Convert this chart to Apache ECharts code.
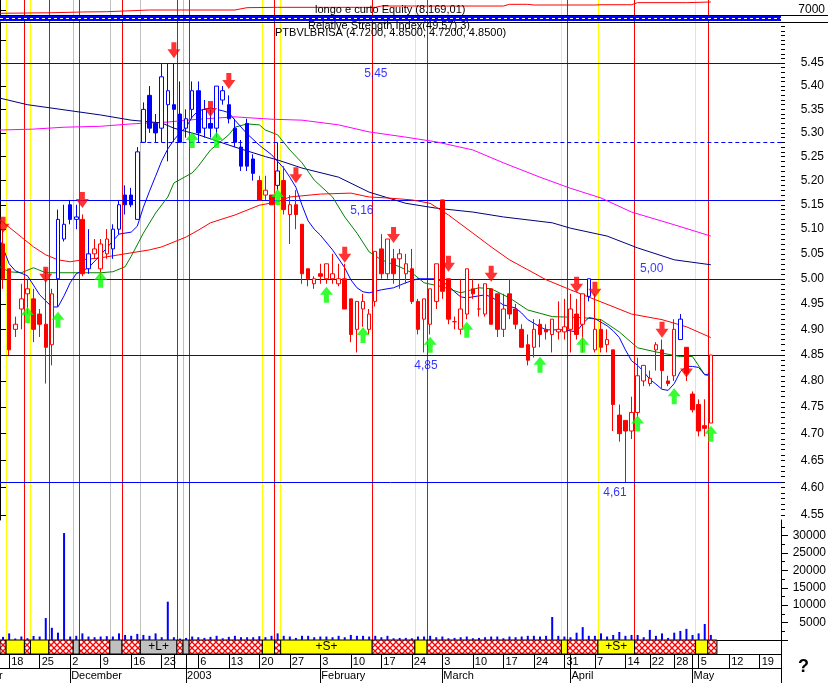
<!DOCTYPE html>
<html><head><meta charset="utf-8">
<script src="https://cdn.jsdelivr.net/npm/echarts@6/dist/echarts.min.js"></script>
<style>html,body{margin:0;padding:0;background:#fff}#c{width:828px;height:683px}</style>
</head><body><div id="c"></div>
<script>
// ---------- DATA ----------
const tradingDays = {
  '2002-11': [15,18,19,20,21,22,25,26,27,28,29],
  '2002-12': [2,3,4,5,6,9,10,11,12,13,16,17,18,19,20,23,24,30,31],
  '2003-01': [2,3,6,7,8,9,10,13,14,15,16,17,20,21,22,23,24,27,28,29,30,31],
  '2003-02': [3,4,5,6,7,10,11,12,13,14,17,18,19,20,21,24,25,26,27,28],
  '2003-03': [3,4,5,6,7,10,11,12,13,14,17,18,19,20,21,24,25,26,27,28,31],
  '2003-04': [1,2,3,4,7,8,9,10,11,14,15,16,17,22,23,24,25,28,29,30],
  '2003-05': [2,5,6,7,8,9,12,13,14,15,16,19,20,21,22]
};
const hiddenDayLabels = ['2002-12-30'];
const monthNames = ['2003','February','March','April','May','June','July','August','September','October','November','December'];

const opens  = [5.07,5.02,4.90,4.94,4.97,4.96,4.93,4.91,4.87,5.00,5.08,5.15,5.12,5.12,5.02,5.05,5.02,5.05,5.06,5.10,5.17,5.17,5.12,5.28,5.38,5.32,5.31,5.36,5.36,5.34,5.31,5.35,5.39,5.31,5.32,5.31,5.37,5.36,5.31,5.27,5.32,5.245,5.20,5.17,5.17,5.19,5.20,5.13,5.15,5.11,5.02,4.99,5.01,5.00,5.00,4.99,5.00,4.96,4.90,4.94,4.90,4.955,5.06,5.01,5.04,5.04,5.01,5.02,4.955,4.92,4.91,4.955,5.16,5.00,4.915,4.90,4.93,4.98,4.94,4.93,4.98,4.97,4.90,4.97,4.94,4.90,4.87,4.865,4.91,4.90,4.89,4.895,4.895,4.90,4.93,4.91,4.965,4.86,4.90,4.87,4.86,4.735,4.725,4.705,4.74,4.80,4.795,4.86,4.86,4.80,4.81,4.88,4.865,4.775,4.755,4.715,4.72];
const closes = [5.00,4.86,4.91,4.96,4.98,4.90,4.91,4.865,4.97,5.12,5.11,5.12,5.125,5.01,5.05,5.06,5.07,5.08,5.10,5.15,5.15,5.15,5.26,5.35,5.31,5.30,5.42,5.39,5.35,5.28,5.33,5.39,5.30,5.35,5.31,5.40,5.39,5.33,5.28,5.23,5.23,5.215,5.16,5.18,5.15,5.22,5.14,5.15,5.13,5.01,5.00,5.00,5.005,5.03,5.01,5.00,4.94,4.89,4.955,4.955,4.93,5.055,5.01,5.08,5.01,5.05,5.03,4.955,4.90,4.96,4.98,5.03,4.975,4.92,4.915,4.94,5.02,4.97,4.94,4.99,4.91,4.90,4.94,4.93,4.91,4.865,4.84,4.90,4.89,4.895,4.92,4.90,4.905,4.94,4.89,4.97,5.00,4.90,4.865,4.88,4.755,4.70,4.705,4.74,4.81,4.83,4.805,4.87,4.82,4.795,4.90,4.92,4.815,4.745,4.705,4.71,4.85];
const lows   = [4.98,4.85,4.885,4.90,4.93,4.875,4.885,4.795,4.83,4.945,5.075,5.11,5.10,5.005,5.01,5.04,5.00,5.04,5.04,5.09,5.13,5.145,5.12,5.28,5.30,5.28,5.28,5.24,5.28,5.28,5.29,5.33,5.28,5.29,5.29,5.29,5.36,5.32,5.27,5.22,5.22,5.20,5.16,5.16,5.15,5.18,5.13,5.07,5.10,4.99,4.985,4.98,4.99,4.99,4.99,4.985,4.94,4.875,4.855,4.905,4.89,4.945,5.00,5.00,4.99,4.98,4.99,4.95,4.89,4.855,4.89,4.94,4.96,4.91,4.90,4.89,4.92,4.96,4.925,4.925,4.91,4.885,4.885,4.92,4.90,4.865,4.83,4.845,4.865,4.88,4.855,4.88,4.88,4.855,4.88,4.855,4.955,4.855,4.855,4.855,4.705,4.685,4.61,4.69,4.73,4.79,4.79,4.82,4.785,4.79,4.80,4.88,4.80,4.74,4.695,4.695,4.72];
const highs  = [5.10,5.02,4.925,4.99,5.00,4.98,4.94,5.02,4.98,5.14,5.15,5.16,5.15,5.13,5.10,5.08,5.08,5.10,5.11,5.16,5.19,5.185,5.27,5.365,5.40,5.34,5.45,5.45,5.45,5.41,5.35,5.41,5.41,5.37,5.35,5.40,5.40,5.38,5.33,5.285,5.33,5.255,5.21,5.21,5.17,5.28,5.23,5.17,5.18,5.11,5.02,5.005,5.03,5.03,5.05,5.03,5.03,4.96,4.955,4.97,4.94,5.055,5.09,5.08,5.06,5.06,5.05,5.06,4.96,4.96,4.98,5.03,5.16,5.00,4.925,5.00,5.02,5.00,4.99,4.99,4.98,4.97,4.97,5.00,4.95,4.91,4.89,4.92,4.92,4.91,4.92,4.955,4.96,4.97,4.96,4.97,5.00,4.97,4.92,4.90,4.86,4.755,4.725,4.77,4.845,4.83,4.82,4.875,4.88,4.81,4.92,4.93,4.865,4.78,4.765,4.765,4.85];
const blueCandles = [9,10,11,12,14,18,19,20,21,22,23,24,25,26,27,28,29,30,31,32,33,34,35,36,37,38,39,40,41,45,96,111];
const volumes = [900,1900,430,1000,500,1150,1000,6300,3500,2100,30700,1000,1200,1900,1000,800,1000,1100,1000,1900,1450,1200,1750,1450,1200,1900,800,11000,800,400,600,1000,800,600,900,1200,500,900,1200,800,800,800,1100,800,1200,1900,1200,1000,600,1200,1200,800,1000,1000,800,1200,800,1450,1200,1200,1000,1200,800,1200,500,600,600,500,1000,1000,1200,800,1000,500,600,800,1000,500,600,800,1000,1000,500,1000,800,1000,1200,1200,1000,1200,6600,1200,1000,800,2100,3700,1200,1200,1900,1000,1450,2300,1200,1450,1450,800,2900,1200,1900,600,2100,2600,3200,1450,1900,4600,1450];

// moving averages: [bar index, price]
const maBlue = [[-0.5,5.078],[1,5.030],[2,5.016],[4,5.006],[6,4.968],[8,4.944],[9,4.944],[10,4.966],[11,4.992],[12,5.010],[14,5.022],[16,5.048],[18,5.076],[19,5.090],[21,5.094],[22,5.106],[23,5.145],[24,5.178],[25,5.209],[26,5.241],[27,5.266],[28,5.285],[29,5.300],[30,5.312],[31,5.334],[32,5.347],[34,5.353],[36,5.347],[37,5.343],[38,5.327],[40,5.298],[42,5.274],[44,5.254],[46,5.226],[47,5.207],[48,5.186],[49,5.149],[50,5.117],[51,5.100],[52,5.088],[54,5.058],[56,5.022],[57,4.998],[58,4.982],[59,4.974],[60,4.972],[62,4.978],[64,4.982],[66,4.992],[68,5.000],[71,5.000],[72,4.994],[73,4.986],[74,4.974],[75,4.964],[76,4.962],[79,4.968],[80,4.964],[82,4.948],[84,4.942],[85,4.932],[86,4.919],[88,4.905],[89,4.899],[92,4.899],[94,4.895],[95,4.911],[96,4.923],[97,4.921],[99,4.907],[100,4.897],[101,4.884],[102,4.860],[103,4.839],[104,4.830],[105,4.818],[106,4.803],[107,4.794],[108,4.784],[109,4.782],[110,4.795],[111,4.818],[112,4.828],[113,4.828],[114,4.826],[115,4.812],[116,4.814]];
const maGreen = [[-0.5,5.024],[1,5.014],[3,5.012],[5,5.022],[7,5.012],[10,5.012],[16,5.012],[18,5.014],[20,5.024],[21,5.045],[23,5.092],[25,5.133],[27,5.166],[28,5.195],[31,5.216],[32,5.230],[34,5.264],[37,5.296],[38,5.312],[40,5.319],[42,5.317],[43,5.306],[45,5.296],[47,5.264],[49,5.237],[51,5.201],[54,5.166],[56,5.125],[58,5.092],[60,5.054],[62,5.038],[65,5.024],[67,5.012],[69,4.992],[72,4.984],[75,4.972],[78,4.982],[80,4.980],[83,4.962],[86,4.938],[90,4.925],[95,4.923],[98,4.919],[101,4.895],[104,4.864],[107,4.856],[111,4.847],[113,4.847],[115,4.812],[116,4.809]];
const maRed = [[-0.5,5.119],[1,5.104],[3,5.084],[5,5.064],[7,5.048],[9,5.038],[11,5.034],[13,5.038],[16,5.042],[19,5.048],[24,5.058],[26,5.064],[28,5.074],[30,5.084],[32,5.098],[34,5.113],[38,5.129],[40,5.139],[42,5.149],[45,5.156],[47,5.166],[52,5.172],[57,5.174],[60,5.166],[63,5.164],[67,5.160],[70,5.153],[73,5.129],[77,5.092],[80,5.064],[83,5.038],[86,5.018],[89,4.998],[93,4.978],[98,4.954],[103,4.930],[108,4.919],[112,4.905],[116,4.884]];
const maNavy = [[-0.5,5.374],[4,5.360],[10,5.349],[16,5.338],[21,5.327],[26,5.321],[28,5.310],[32,5.296],[38,5.270],[43,5.250],[45,5.243],[49,5.226],[55,5.207],[60,5.176],[66,5.153],[71,5.143],[77,5.135],[82,5.125],[90,5.113],[93,5.102],[99,5.086],[104,5.062],[110,5.038],[116,5.028]];
const maMagenta = [[-0.5,5.306],[5,5.308],[10,5.312],[16,5.314],[21,5.319],[27,5.323],[32,5.329],[38,5.334],[44,5.329],[49,5.327],[55,5.317],[60,5.302],[66,5.291],[71,5.281],[77,5.264],[82,5.237],[88,5.207],[93,5.184],[98,5.164],[103,5.135],[110,5.109],[116,5.086]];

// signals: [bar index, price level]
const sellArrows = [[0,5.109],[7,5.008],[13,5.160],[28,5.478],[34,5.351],[37,5.411],[48,5.211],[56,5.048],[64,5.088],[73,5.030],[80,5.010],[94,4.988],[97,4.978],[108,4.899],[112,4.822]];
const buyArrows  = [[4,4.928],[9,4.919],[16,4.998],[31,5.285],[35,5.285],[45,5.166],[53,4.968],[59,4.889],[70,4.870],[76,4.899],[88,4.831],[95,4.870],[104,4.719],[110,4.771],[116,4.700]];

// equity curve: [bar index, value]
const equity = [[-0.5,6520],[8,6600],[13,6710],[17,6750],[24,7000],[38,7000],[40,7340],[45,7390],[61,7390],[62,7580],[82,7580],[83,7830],[86,7830],[87,7730],[97,7730],[98,7770],[103,7770],[104,8070],[112,8070],[116,8169]];

// position state strip
const stateStarts = [0,1,4,5,8,12,13,18,20,23,29,30,31,43,45,46,61,68,70,92,93,98,104,114,116];
const stateKinds  = ['flat','short','flat','short','flat','long','flat','long','flat','long','flat','long','flat','short','flat','short','flat','short','flat','short','flat','short','flat','short','flat'];
const stateEnd = 117.5;

// support / resistance levels
const levels = [5.45, 5.16, 5.00, 4.85, 4.61];
const levelLabelText = ['5,45','5,16','5,00','4,85','4,61'];
const levelLabelBar  = [61.6, 59.3, 106.8, 69.8, 100.8];
const levelLabelSide = ['bottom','bottom','top','bottom','bottom'];
const dashedLevel = 5.28, dashedFrom = 23;

const priceLabels = [4.55,4.60,4.65,4.70,4.75,4.80,4.85,4.90,4.95,5.00,5.05,5.10,5.15,5.20,5.25,5.30,5.35,5.40,5.45];
const priceMin = 4.5407, priceMax = 5.5400;
const volLabels = [5000,10000,15000,20000,25000,30000];

// ---------- BUILD ----------
const L = Math.log;
const dates = [];
for (const ym in tradingDays) for (const d of tradingDays[ym]) dates.push(ym + '-' + String(d).padStart(2,'0'));
const N = dates.length;
const weekStarts = new Set(), monthStarts = new Set();
for (let i = 1; i < N; i++) {
  const a = new Date(dates[i-1] + 'T00:00:00Z'), b = new Date(dates[i] + 'T00:00:00Z');
  if (b.getUTCDay() <= a.getUTCDay() || (b - a) / 864e5 >= 7) weekStarts.add(i);
  if (dates[i].slice(0,7) !== dates[i-1].slice(0,7)) monthStarts.add(i);
}
const dayTick = i => weekStarts.has(i) || monthStarts.has(i);

const blueSet = new Set(blueCandles);
const redData = [], blueData = [];
const EMPTY = ['-','-','-','-'];
for (let i = 0; i < opens.length; i++) {
  const row = [L(opens[i]), L(closes[i]), L(lows[i]), L(highs[i])];
  if (blueSet.has(i)) { blueData.push(row); redData.push(EMPTY); }
  else { redData.push(row); blueData.push(EMPTY); }
}
const maSeries = (arr, color) => ({
  type:'line', xAxisIndex:2, yAxisIndex:1, data: arr.map(p => [p[0] + 0.5, L(p[1])]),
  showSymbol:false, symbol:'none', lineStyle:{color, width:1}, z:3, silent:true, animation:false
});

const minorVals = []; for (let k = 455; k <= 554; k++) minorVals.push(L(k/100));
const majorTicks = priceLabels.concat([5.50]).map(L);

const kindColor = {flat:'#ff0000', short:'#ffff00', long:'#c0c0c0'};
const vlines = stateStarts.map((s, k) => ({s, k: stateKinds[k]})).filter(o => o.s > 0);

const pc = document.createElement('canvas'); pc.width = 6; pc.height = 6;
const g = pc.getContext('2d');
g.fillStyle = '#fff'; g.fillRect(0,0,6,6);
g.strokeStyle = '#ff0000'; g.lineWidth = 1.3;
g.beginPath(); g.moveTo(0,0); g.lineTo(6,6); g.moveTo(6,0); g.lineTo(0,6); g.stroke();
const kindFill = {flat:{image:pc, repeat:'repeat'}, short:'#ffff00', long:'#c0c0c0'};
const kindCode = {flat:0, short:1, long:2};
const codeKind = ['flat','short','long'];
const segData = stateStarts.map((s, k) => ({value:[s, k+1 < stateStarts.length ? stateStarts[k+1] : stateEnd, kindCode[stateKinds[k]]]}));

const FONT = 'Liberation Sans';
const gridBase = {left:0, width:781, containLabel:false, outerBoundsMode:'none'};

const option = {
  animation:false,
  backgroundColor:'#fff',
  textStyle:{fontFamily:FONT},
  grid:[
    Object.assign({top:0, height:15}, gridBase),
    Object.assign({top:22, height:498}, gridBase),
    Object.assign({top:520, height:120}, gridBase),
    Object.assign({top:640, height:14}, gridBase),
    Object.assign({top:0, height:640}, gridBase)
  ],
  xAxis:[
    {type:'value', gridIndex:0, min:0, max:N, show:false},
    {type:'category', gridIndex:1, data:dates, show:false},
    {type:'value', gridIndex:1, min:0, max:N, show:false},
    {type:'category', gridIndex:2, data:dates, position:'bottom',
      axisLine:{show:true, onZero:false, lineStyle:{color:'#000', width:1}}, axisTick:{show:false}, axisLabel:{show:false}},
    {type:'value', gridIndex:3, min:0, max:N, show:false, position:'top'},
    {type:'category', gridIndex:3, data:dates, position:'bottom',
      axisLine:{show:true, onZero:false, lineStyle:{color:'#000'}},
      axisTick:{show:true, alignWithLabel:true, interval:(i) => dayTick(i), length:14, lineStyle:{color:'#000'}},
      axisLabel:{interval:(i) => dayTick(i), align:'left', margin:2, padding:[0,0,0,2], fontSize:11, color:'#000', fontFamily:FONT,
        formatter:(v, i) => (weekStarts.has(i) && hiddenDayLabels.indexOf(v) < 0) ? String(+v.slice(8)) : ''}},
    {type:'category', gridIndex:3, data:dates, position:'bottom', offset:14,
      axisLine:{show:true, onZero:false, lineStyle:{color:'#000'}},
      axisTick:{show:true, alignWithLabel:true, interval:(i) => monthStarts.has(i), length:15, lineStyle:{color:'#000'}},
      axisLabel:{interval:(i) => monthStarts.has(i), align:'left', margin:2, padding:[0,0,0,1], fontSize:11, color:'#000', fontFamily:FONT,
        formatter:(v, i) => monthStarts.has(i) ? (+v.slice(5,7) === 1 ? v.slice(0,4) : monthNames[+v.slice(5,7)-1]) : ''}},
    {type:'value', gridIndex:4, min:0, max:N, show:false, position:'top'}
  ],
  yAxis:[
    {type:'value', gridIndex:0, position:'right', min:6270, max:8460,
      axisLine:{show:true, lineStyle:{color:'#000'}}, splitLine:{show:false},
      axisTick:{show:true, customValues:[7000], length:7, lineStyle:{color:'#000'}},
      axisLabel:{customValues:[7000], formatter:v => String(Math.round(v)), align:'right', margin:44, fontSize:12, color:'#000', fontFamily:FONT}},
    {type:'value', gridIndex:1, position:'right', min:L(priceMin), max:L(priceMax),
      axisLine:{show:true, lineStyle:{color:'#000'}}, splitLine:{show:false},
      axisTick:{show:true, customValues:majorTicks, length:7, lineStyle:{color:'#000'}},
      axisLabel:{customValues:priceLabels.map(L), formatter:v => Math.exp(v).toFixed(2), align:'right', margin:43, fontSize:12, color:'#000', fontFamily:FONT}},
    {type:'value', gridIndex:1, position:'right', min:L(priceMin), max:L(priceMax),
      axisLine:{show:false}, splitLine:{show:false}, axisLabel:{show:false},
      axisTick:{show:true, customValues:minorVals, length:4, lineStyle:{color:'#000'}}},
    {type:'value', gridIndex:2, position:'right', min:0, max:34450,
      axisLine:{show:true, lineStyle:{color:'#000'}}, splitLine:{show:false},
      axisTick:{show:true, customValues:[0].concat(volLabels), length:7, lineStyle:{color:'#000'}},
      axisLabel:{customValues:volLabels, formatter:v => String(Math.round(v)), align:'right', margin:45, fontSize:12, color:'#000', fontFamily:FONT}},
    {type:'value', gridIndex:2, position:'right', min:0, max:34450,
      axisLine:{show:false}, splitLine:{show:false}, axisLabel:{show:false},
      axisTick:{show:true, customValues:[2500,7500,12500,17500,22500,27500,32500], length:4, lineStyle:{color:'#000'}}},
    {type:'value', gridIndex:3, min:0, max:1, show:false},
    {type:'value', gridIndex:4, min:0, max:1, show:false}
  ],
  series:[
    // vertical state-change lines
    {type:'line', xAxisIndex:7, yAxisIndex:6, data:[[0,-5]], showSymbol:false, lineStyle:{width:0}, silent:true, z:1,
      markLine:{silent:true, symbol:'none', z:1, animation:false, label:{show:false},
        data: vlines.map(o => ({xAxis:o.s, lineStyle:{color:kindColor[o.k], width:1, type:'solid'}}))}},
    // horizontal levels
    {type:'line', xAxisIndex:2, yAxisIndex:1, data:[[0,-5]], showSymbol:false, lineStyle:{width:0}, silent:true, z:2,
      markLine:{silent:true, symbol:'none', z:2, animation:false, label:{show:false},
        data: levels.map(v => [{coord:[0, L(v)], lineStyle:{color:'#0000ff', width:1, type:'solid'}}, {coord:[N, L(v)]}])
          .concat([[{coord:[dashedFrom, L(dashedLevel)], lineStyle:{color:'#0000ff', width:1, type:[4,3]}}, {coord:[N, L(dashedLevel)]}]])}},
    // level labels
    {type:'scatter', xAxisIndex:2, yAxisIndex:1, symbol:'circle', symbolSize:1, itemStyle:{color:'rgba(0,0,0,0)'}, silent:true, z:5,
      label:{show:true, color:'#0000ff', fontSize:12, fontFamily:FONT, distance:4},
      data: levels.map((v, k) => ({value:[levelLabelBar[k], L(v)], name:levelLabelText[k],
        label:{show:true, position:levelLabelSide[k], formatter:levelLabelText[k]}}))},
    // moving averages
    maSeries(maMagenta, '#ff00ff'),
    maSeries(maNavy, '#000080'),
    maSeries(maRed, '#ff0000'),
    maSeries(maGreen, '#008000'),
    maSeries(maBlue, '#0000ff'),
    // candles
    {type:'candlestick', xAxisIndex:1, yAxisIndex:1, data:redData, barWidth:4, z:4, silent:true,
      itemStyle:{color:'#ffffff', color0:'#ff0000', borderColor:'#ff0000', borderColor0:'#ff0000', borderWidth:1}},
    {type:'candlestick', xAxisIndex:1, yAxisIndex:1, data:blueData, barWidth:4, z:4, silent:true,
      itemStyle:{color:'#ffffff', color0:'#0000ff', borderColor:'#0000ff', borderColor0:'#0000ff', borderWidth:1}},
    // signal arrows
    {type:'scatter', xAxisIndex:1, yAxisIndex:1, data: sellArrows.map(a => [a[0], L(a[1])]), silent:true, z:6,
      symbol:'path://M4,0L9,0L9,7L13,7L6.5,16L0,7L4,7Z', symbolSize:[13,16], itemStyle:{color:'#ff0000'}},
    {type:'scatter', xAxisIndex:1, yAxisIndex:1, data: buyArrows.map(a => [a[0], L(a[1])]), silent:true, z:6,
      symbol:'path://M6.5,0L13,8L9,8L9,16L4,16L4,8L0,8Z', symbolSize:[13,16], itemStyle:{color:'#00ff00'}},
    // volume
    {type:'bar', xAxisIndex:3, yAxisIndex:3, data:volumes, barWidth:2, itemStyle:{color:'#0000ff'}, silent:true, z:3},
    // equity
    {type:'line', xAxisIndex:0, yAxisIndex:0, data: equity.map(p => [p[0] + 0.5, p[1]]), showSymbol:false, symbol:'none',
      lineStyle:{color:'#ff0000', width:1}, z:3, silent:true},
    // state strip
    {type:'custom', xAxisIndex:4, yAxisIndex:5, data:segData, silent:true, z:3,
      renderItem:(params, api) => {
        const s = api.value(0), e = api.value(1), kind = codeKind[api.value(2)];
        const p0 = api.coord([s, 1]), p1 = api.coord([e, 0]);
        const children = [{type:'rect', shape:{x:p0[0], y:p0[1], width:p1[0]-p0[0], height:p1[1]-p0[1]},
          style:{fill:kindFill[kind], stroke:'#000', lineWidth:1}}];
        if (kind !== 'flat' && e - s >= 6) {
          children.push({type:'text', x:(p0[0]+p1[0])/2, y:(p0[1]+p1[1])/2,
            style:{text: kind === 'long' ? '+L+' : '+S+', align:'center', verticalAlign:'middle', font:'12px "Liberation Sans"', fill:'#000'}});
        }
        return {type:'group', children};
      }}
  ],
  graphic:[
    {type:'rect', z:50, shape:{x:0, y:16, width:781, height:5}, style:{fill:'#0000ff'}},
    {type:'line', z:51, shape:{x1:0, y1:18.5, x2:781, y2:18.5}, style:{stroke:'#ffffff', lineWidth:1, lineDash:[3,3]}},
    {type:'line', z:51, shape:{x1:0, y1:15.5, x2:828, y2:15.5}, style:{stroke:'#000', lineWidth:1}},
    {type:'line', z:51, shape:{x1:0, y1:22.5, x2:828, y2:22.5}, style:{stroke:'#000', lineWidth:1}},
    {type:'text', z:60, left:315, top:4, style:{text:'longo e curto Equity (8.169,01)', font:'11px "Liberation Sans"', fill:'#000'}},
    {type:'text', z:60, left:308, top:20, style:{text:'Relative Strength Index(49,57) 3)', font:'11px "Liberation Sans"', fill:'#000'}},
    {type:'text', z:60, left:275, top:27, style:{text:'PTBVLBRISA (4.7200, 4.8500, 4.7200, 4.8500)', font:'11px "Liberation Sans"', fill:'#000'}},
    {type:'text', z:60, left:-48, top:670, style:{text:'November', font:'11px "Liberation Sans"', fill:'#000'}},
    {type:'line', z:60, shape:{x1:781.5, y1:640, x2:781.5, y2:683}, style:{stroke:'#000', lineWidth:1}},
    {type:'text', z:60, left:798, top:658, style:{text:'?', font:'bold 18px "Liberation Sans"', fill:'#000'}}
  ]
};

const chart = echarts.init(document.getElementById('c'), null, {renderer:'canvas'});
chart.setOption(option);
</script>
</body></html>
